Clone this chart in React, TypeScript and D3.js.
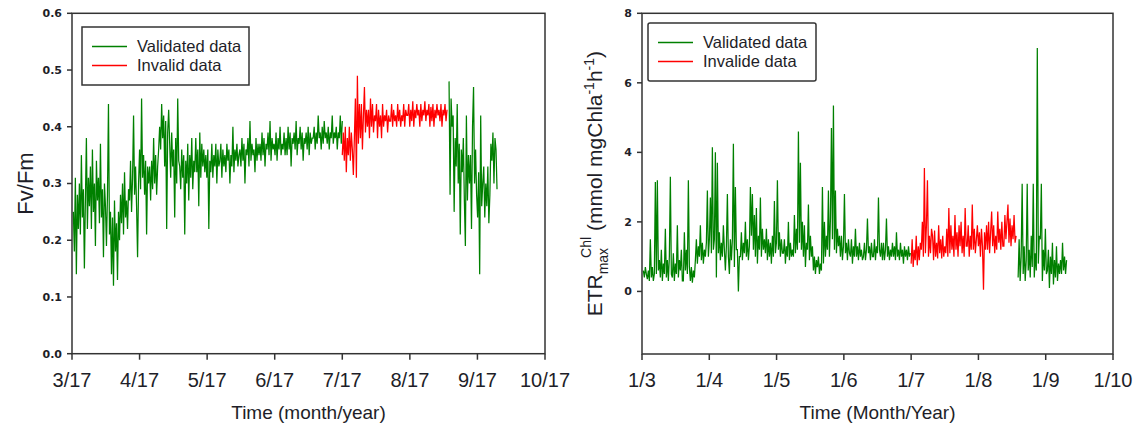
import React from "react";
import * as d3 from "d3";

// ---------------- DATA ----------------
const monthTicks = [3, 4, 5, 6, 7, 8, 9, 10];
const leftTickLabels = ["3/17", "4/17", "5/17", "6/17", "7/17", "8/17", "9/17", "10/17"];
const rightTickLabels = ["1/3", "1/4", "1/5", "1/6", "1/7", "1/8", "1/9", "1/10"];
const fvfmTicks = [0, 0.1, 0.2, 0.3, 0.4, 0.5, 0.6];
const etrTicks = [0, 2, 4, 6, 8];

// Fv/Fm series (time span in months, then values)
const fvfmValidA_span = [3.02, 7.0];
const fvfmValidA = [
  0.25, 0.18, 0.31, 0.14, 0.28, 0.22,
  0.30, 0.21, 0.35, 0.24, 0.29, 0.15, 0.27, 0.38, 0.22, 0.31,
  0.26, 0.33, 0.22, 0.36, 0.25, 0.30, 0.19, 0.34, 0.27, 0.31, 0.23, 0.37, 0.24, 0.29, 0.17, 0.30,
  0.26, 0.19, 0.28, 0.44, 0.21, 0.25, 0.14, 0.24, 0.12, 0.27, 0.18, 0.23, 0.13, 0.25,
  0.20, 0.28, 0.23, 0.30, 0.21, 0.32, 0.24, 0.27, 0.22, 0.29,
  0.27, 0.34, 0.25, 0.31, 0.42, 0.28, 0.33, 0.26, 0.17, 0.30,
  0.36, 0.29, 0.45, 0.31, 0.35, 0.28, 0.34, 0.21, 0.33, 0.30,
  0.33, 0.27, 0.34, 0.29, 0.38, 0.30, 0.35, 0.28, 0.33, 0.36,
  0.40, 0.36, 0.44, 0.38, 0.42, 0.33, 0.41, 0.22, 0.39, 0.43,
  0.37, 0.31, 0.39, 0.33, 0.36, 0.24, 0.38, 0.30, 0.45, 0.34,
  0.33, 0.29, 0.36, 0.31, 0.35, 0.21, 0.34, 0.30, 0.37, 0.27, 0.35, 0.31, 0.38, 0.29, 0.34, 0.32,
  0.38, 0.32, 0.36, 0.26, 0.39, 0.31, 0.37, 0.33, 0.36, 0.32,
  0.35, 0.31, 0.36, 0.22, 0.34, 0.32, 0.37, 0.31, 0.35, 0.33, 0.37, 0.30, 0.36, 0.33,
  0.34, 0.37, 0.31, 0.36, 0.33, 0.35, 0.32, 0.37, 0.34, 0.36, 0.30, 0.35, 0.33, 0.40, 0.32, 0.36, 0.34, 0.37, 0.33, 0.35,
  0.36, 0.33, 0.38, 0.34, 0.37, 0.30, 0.36, 0.35, 0.38, 0.33, 0.41, 0.34, 0.37, 0.35, 0.36, 0.32, 0.38, 0.34, 0.37, 0.35,
  0.37, 0.34, 0.39, 0.35, 0.38, 0.33, 0.37, 0.36, 0.39, 0.35, 0.41, 0.34, 0.38, 0.36, 0.37, 0.35, 0.39, 0.34, 0.38, 0.36, 0.40, 0.35, 0.37, 0.36, 0.39, 0.35,
  0.38, 0.35, 0.40, 0.36, 0.39, 0.33, 0.38, 0.37, 0.39, 0.36, 0.41, 0.35, 0.38, 0.37, 0.40, 0.36, 0.39, 0.34, 0.38, 0.37, 0.39, 0.36, 0.40, 0.35, 0.39, 0.37, 0.38,
  0.38, 0.40, 0.36, 0.39, 0.37, 0.42, 0.38, 0.39, 0.36, 0.40, 0.37, 0.41, 0.38, 0.39, 0.37, 0.40, 0.36, 0.39, 0.38, 0.42, 0.37, 0.39, 0.38, 0.40, 0.36, 0.39, 0.38,
  0.42, 0.37, 0.41,
];
const fvfmInvalid_span = [7.0, 8.55];
const fvfmInvalid = [
  0.35, 0.39, 0.34, 0.40, 0.32, 0.38, 0.35, 0.40,
  0.34, 0.39, 0.36, 0.315, 0.38,
  0.45, 0.31, 0.49, 0.37, 0.44,
  0.38, 0.44, 0.36, 0.42, 0.47, 0.39, 0.43,
  0.40, 0.43, 0.38, 0.45, 0.40, 0.44, 0.39, 0.42, 0.41, 0.44, 0.38, 0.43, 0.40,
  0.42, 0.38, 0.44, 0.40, 0.42, 0.41, 0.43, 0.39, 0.42, 0.41,
  0.41, 0.44, 0.40, 0.43, 0.41, 0.42, 0.40, 0.44, 0.41, 0.43, 0.40, 0.42, 0.41, 0.44, 0.40, 0.43, 0.42,
  0.42, 0.44, 0.40, 0.43, 0.41, 0.445, 0.40, 0.43, 0.415, 0.44, 0.42, 0.43, 0.40, 0.44, 0.41, 0.43, 0.42, 0.445, 0.41, 0.43,
  0.42, 0.44, 0.40, 0.435, 0.41, 0.44, 0.40, 0.43, 0.415, 0.44, 0.42, 0.43, 0.41, 0.44, 0.40, 0.43, 0.42, 0.44, 0.41, 0.43,
];
const fvfmValidB_span = [8.58, 9.29];
const fvfmValidB = [
  0.48, 0.28, 0.45, 0.40,
  0.42, 0.25, 0.38, 0.33,
  0.44, 0.30, 0.37, 0.21, 0.36, 0.32,
  0.38, 0.27, 0.19, 0.42, 0.27, 0.35, 0.30,
  0.35, 0.22, 0.40, 0.47, 0.30, 0.36, 0.28,
  0.24, 0.32, 0.14, 0.42, 0.26, 0.30,
  0.33, 0.24, 0.30, 0.26, 0.33, 0.23, 0.28,
  0.37, 0.34, 0.39, 0.30, 0.38, 0.36, 0.29,
];

// ETRmax series
const etrValidA_span = [3.02, 6.99];
const etrValidA = [
  0.6, 0.4, 0.7, 0.5,
  0.35, 0.6, 0.3, 1.5, 0.4, 0.7, 0.3, 0.5,
  3.15, 0.5, 3.2, 0.6, 0.9,
  0.4, 1.2, 0.3, 0.8, 0.5, 1.8, 0.4, 0.9, 0.3, 1.0,
  3.3, 0.5,
  0.4, 1.1, 0.3, 0.8, 0.5, 1.9, 0.4, 0.9, 0.6, 1.2, 0.3,
  0.3, 1.7, 0.6, 1.2, 0.5, 3.2, 0.7,
  0.3, 0.7, 0.25, 0.6, 0.4,
  0.9, 1.5, 0.8, 1.3, 1.0, 1.9, 0.9, 1.4, 0.8, 1.2, 1.0, 1.4,
  2.9, 1.0, 1.5, 2.7, 1.1,
  4.15, 1.2, 1.5,
  4.0, 0.4, 3.7,
  1.1, 1.7, 0.9, 1.4, 1.0, 1.9, 1.2,
  0.6, 1.3, 2.8, 1.0, 0.5, 1.5, 0.9,
  1.5, 4.25, 0.7, 3.0, 1.2,
  1.2, 0.0, 1.0,
  1.0, 1.7, 0.9, 1.4, 1.1, 2.0, 1.0, 1.5, 0.9, 1.3,
  3.0, 1.6, 2.8, 1.2, 2.2,
  1.0, 2.4, 0.8, 1.6, 1.2, 2.7, 1.0, 1.8, 1.2, 1.5,
  1.1, 1.8, 0.9, 1.5, 1.0, 1.4, 0.8, 1.6, 1.0, 2.6, 1.1, 1.4,
  3.2, 1.2, 1.7, 1.0, 1.5, 1.1,
  1.1, 1.5, 0.8, 1.3, 1.0, 2.0, 0.9, 1.4, 1.0, 1.2,
  1.0, 2.2, 1.1, 1.8, 1.2,
  4.6, 1.4, 3.7, 1.2, 2.0,
  1.0, 1.9, 0.7, 1.4, 1.2, 2.5, 0.9, 1.6, 1.0, 1.3,
  0.6, 1.0, 0.5, 0.9, 0.7, 1.0, 0.5, 0.8, 0.6,
  3.0, 0.8, 2.0, 1.0, 1.6,
  1.2, 2.9, 1.0, 2.1,
  4.7, 1.5, 5.35,
  1.2, 2.9, 1.1, 1.8, 1.3, 1.6,
  1.0, 1.6, 0.9, 1.3, 2.8, 1.1, 1.4, 0.9, 1.5, 1.1,
  1.0, 1.5, 0.8, 1.3, 1.0, 1.8, 1.0, 1.3, 0.9, 1.4, 1.0, 1.2, 0.9,
  1.0, 1.4, 0.9, 1.2, 2.1, 1.1, 1.3, 0.9, 1.4, 1.0,
  1.0, 1.5, 0.9, 1.3, 1.1, 2.7, 1.2, 1.0, 1.4, 0.9,
  1.4, 0.9, 1.2, 2.1, 1.0, 1.3, 0.9, 1.2, 1.0, 1.4,
  1.0, 1.3, 0.9, 1.7, 1.0, 1.2, 0.9, 1.4, 1.0, 1.2, 0.8, 1.3, 1.0, 1.2, 0.9, 1.3, 1.0, 1.1,
];
const etrInvalid_span = [7.0, 8.56];
const etrInvalid = [
  0.8, 1.5, 0.7, 1.2, 0.9, 1.6, 0.75, 1.3, 0.9, 1.4,
  1.2, 2.0, 1.0, 3.55, 1.1, 1.9, 3.2, 1.0, 1.6, 1.1, 1.8,
  1.6, 0.9, 1.75, 1.0, 1.4, 0.95, 1.9, 1.1, 1.5, 0.95, 1.6, 1.0, 1.3, 1.1,
  1.8, 1.0, 2.4, 1.1, 1.9, 1.2, 1.6, 1.0, 2.2, 1.2, 1.7, 1.0, 1.9, 1.3, 2.0, 1.1, 1.6, 1.0, 2.4, 1.3,
  1.3, 1.9, 1.0, 1.6, 1.2, 2.5, 1.2, 1.8, 1.1, 1.5, 1.9, 1.3, 1.7, 1.0, 1.8, 1.3, 0.05, 1.7, 1.2, 1.9,
  1.2, 2.0, 1.1, 1.7, 2.3, 1.3, 1.9, 1.1, 1.6, 1.2, 2.3, 1.4, 1.8, 1.2, 2.0, 1.3,
  1.3, 2.2, 1.5, 2.0, 2.5, 1.4, 2.1, 1.3, 1.9, 1.5, 2.2, 1.4, 1.6,
];
const etrValidB_span = [8.59, 9.31];
const etrValidB = [
  0.4, 1.5, 0.3, 1.0, 3.1,
  0.5, 1.3, 0.3, 0.9, 3.1, 0.6, 1.2, 0.4, 1.6, 0.7,
  3.1, 0.4, 1.1, 0.6,
  7.0, 0.8, 1.6,
  1.5, 3.1, 0.3, 1.2, 0.6, 1.8, 0.5,
  0.6, 1.2, 0.1, 1.0, 0.5, 1.4, 0.2, 0.9, 0.4, 1.3, 0.3, 0.8, 0.5,
  0.9, 0.5, 1.4, 0.6, 1.0, 0.5, 0.9,
];

const GREEN = "#008000";
const RED = "#ff0000";
const AXIS = "#333333";
const TEXT = "#1e1e28";
const SANS = "'Liberation Sans', Arial, sans-serif";
const TICKFONT = "'DejaVu Sans', Verdana, sans-serif";

type Series = { values: number[]; span: number[]; color: string };

function Panel(props: {
  left: number; right: number; top: number; bottom: number;
  yDomain: [number, number]; yTicks: number[]; yFmt: (v: number) => string;
  xLabels: string[]; series: Series[]; xTitle: string;
  legend: { x: number; y: number; w: number; h: number; labels: string[]; rx: number };
  yTitle: React.ReactNode;
}) {
  const { left, right, top, bottom } = props;
  const x = d3.scaleLinear().domain([3, 10]).range([left, right]);
  const y = d3.scaleLinear().domain(props.yDomain).range([bottom, top]);
  const lines = props.series.map((s, k) => {
    const n = s.values.length;
    const t0 = s.span[0], t1 = s.span[1];
    const gen = d3.line<number>()
      .x((_, i) => x(t0 + (i * (t1 - t0)) / (n - 1)))
      .y((d) => y(d));
    return <path key={k} d={gen(s.values) || ""} fill="none" stroke={s.color} strokeWidth={1.25} />;
  });
  const lg = props.legend;
  return (
    <g>
      {lines}
      <rect x={left} y={top} width={right - left} height={bottom - top} fill="none" stroke={AXIS} strokeWidth={1.5} />
      {props.yTicks.map((t) => (
        <g key={t}>
          <line x1={left - 5} x2={left} y1={y(t)} y2={y(t)} stroke={AXIS} strokeWidth={1.5} />
          <text x={left - 10} y={y(t)} dy="0.36em" textAnchor="end" fontFamily={TICKFONT} fontWeight="bold" fontSize={11} fill={TEXT}>
            {props.yFmt(t)}
          </text>
        </g>
      ))}
      {monthTicks.map((m, i) => (
        <g key={m}>
          <line x1={x(m)} x2={x(m)} y1={bottom} y2={bottom + 6} stroke={AXIS} strokeWidth={1.5} />
          <text x={x(m)} y={bottom + 33} textAnchor="middle" fontFamily={SANS} fontSize={20} fill={TEXT}>
            {props.xLabels[i]}
          </text>
        </g>
      ))}
      <text x={(left + right) / 2} y={bottom + 65} textAnchor="middle" fontFamily={SANS} fontSize={19} fill={TEXT}>
        {props.xTitle}
      </text>
      {props.yTitle}
      <rect x={lg.x} y={lg.y} width={lg.w} height={lg.h} rx={lg.rx} fill="white" stroke={AXIS} strokeWidth={1.5} />
      {lg.labels.map((lab, i) => (
        <g key={lab}>
          <line x1={lg.x + 10} x2={lg.x + 45} y1={lg.y + 19.5 + i * 19} y2={lg.y + 19.5 + i * 19} stroke={i === 0 ? GREEN : RED} strokeWidth={1.5} />
          <text x={lg.x + 55} y={lg.y + 24.5 + i * 19} fontFamily={SANS} fontSize={16.5} fill={TEXT}>
            {lab}
          </text>
        </g>
      ))}
    </g>
  );
}

export default function App() {
  const leftTop = 13.3, leftBottom = 353.7;
  const rightTop = 13.3, rightBottom = 354;
  return (
    <svg width={1146} height={430} style={{ position: "absolute", left: 0, top: 0, background: "white" }}>
      <Panel
        left={72} right={545} top={leftTop} bottom={leftBottom}
        yDomain={[0, 0.6]} yTicks={fvfmTicks} yFmt={(v) => d3.format(".1f")(v)}
        xLabels={leftTickLabels}
        series={[
          { values: fvfmValidA, span: fvfmValidA_span, color: GREEN },
          { values: fvfmInvalid, span: fvfmInvalid_span, color: RED },
          { values: fvfmValidB, span: fvfmValidB_span, color: GREEN },
        ]}
        xTitle="Time (month/year)"
        legend={{ x: 82, y: 27, w: 167, h: 58, labels: ["Validated data", "Invalid data"], rx: 0 }}
        yTitle={
          <text transform={`translate(33,${(leftTop + leftBottom) / 2}) rotate(-90)`} textAnchor="middle" fontFamily={SANS} fontSize={22} fill={TEXT}>
            Fv/Fm
          </text>
        }
      />
      <Panel
        left={642} right={1113} top={rightTop} bottom={rightBottom}
        yDomain={[-1.8, 8]} yTicks={etrTicks} yFmt={(v) => String(v)}
        xLabels={rightTickLabels}
        series={[
          { values: etrValidA, span: etrValidA_span, color: GREEN },
          { values: etrInvalid, span: etrInvalid_span, color: RED },
          { values: etrValidB, span: etrValidB_span, color: GREEN },
        ]}
        xTitle="Time (Month/Year)"
        legend={{ x: 648, y: 23, w: 168, h: 58, labels: ["Validated data", "Invalide data"], rx: 2 }}
        yTitle={
          <text transform={`translate(602,${(rightTop + rightBottom) / 2}) rotate(-90)`} textAnchor="middle" fontFamily={SANS} fontSize={21} fill={TEXT}>
            <tspan>ETR</tspan>
            <tspan fontSize={14} dy={6}>max</tspan>
            <tspan fontSize={14} dx={-10} dy={-17}>Chl</tspan>
            <tspan dy={11}> (mmol mgChla</tspan>
            <tspan fontSize={14} dy={-8}>-1</tspan>
            <tspan dy={8}>h</tspan>
            <tspan fontSize={14} dy={-8}>-1</tspan>
            <tspan dy={8}>)</tspan>
          </text>
        }
      />
    </svg>
  );
}
